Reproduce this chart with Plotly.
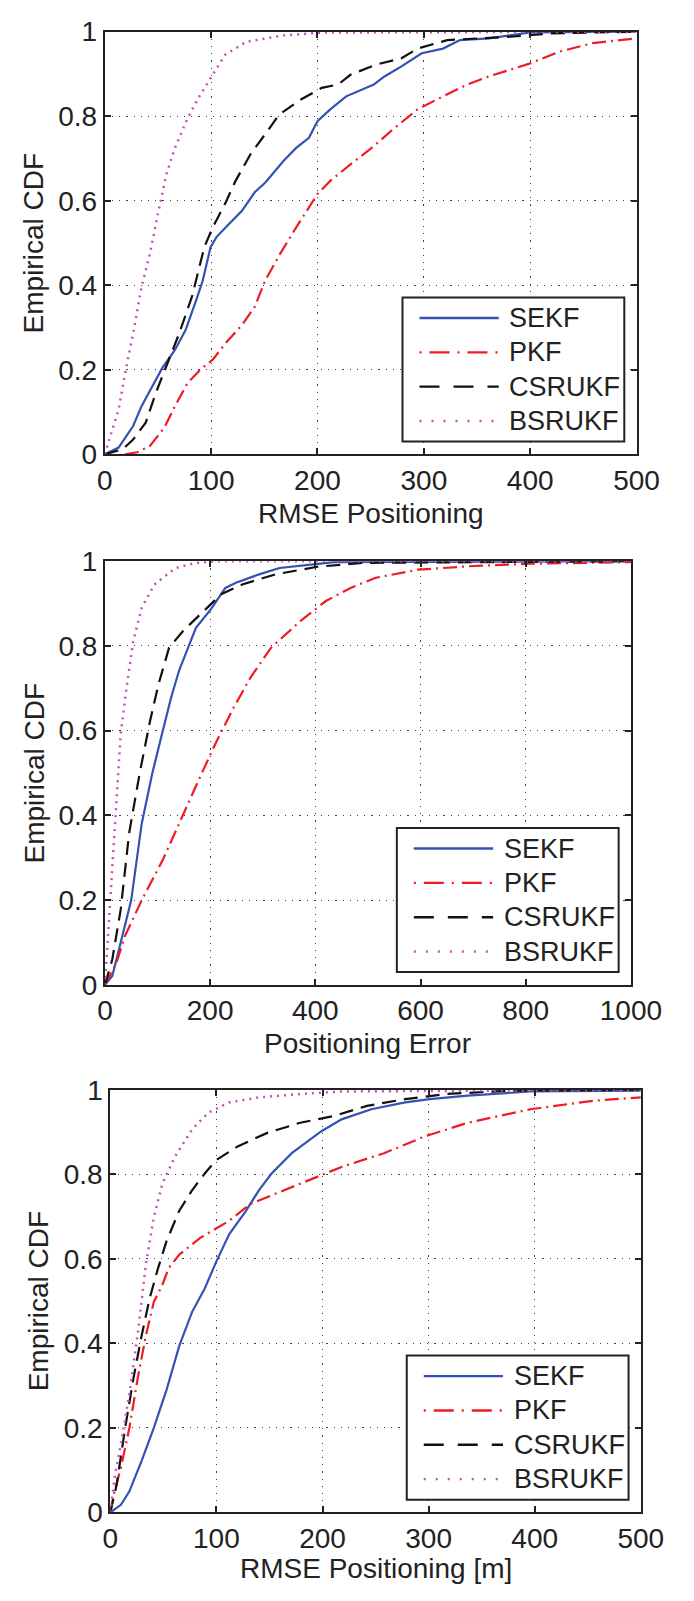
import plotly.graph_objects as go

W, H = 694, 1601

series_names = ["SEKF", "PKF", "CSRUKF", "BSRUKF"]

# ---------------- Panel 1: RMSE Positioning ----------------
p1_sekf_x = [0, 13, 26.7, 34.6, 44.5, 54, 66, 76, 86, 92, 99.5, 105, 115, 129, 141, 151, 168, 180, 192, 200, 212, 227, 253, 263, 279, 298, 318, 334, 361, 400, 500]
p1_sekf_y = [0, 0.016, 0.067, 0.114, 0.16, 0.204, 0.247, 0.294, 0.365, 0.41, 0.49, 0.514, 0.54, 0.576, 0.62, 0.643, 0.694, 0.725, 0.749, 0.788, 0.816, 0.847, 0.875, 0.894, 0.918, 0.949, 0.96, 0.98, 0.984, 0.998, 1.0]
p1_pkf_x = [19, 30.7, 42.5, 56, 66, 78, 89.7, 101.5, 115, 129, 141, 151, 165, 180, 200, 212, 231, 251, 271, 294, 318, 341, 361, 400, 428, 459, 500]
p1_pkf_y = [0, 0.005, 0.02, 0.063, 0.114, 0.169, 0.2, 0.224, 0.267, 0.306, 0.349, 0.412, 0.475, 0.537, 0.616, 0.647, 0.686, 0.725, 0.769, 0.816, 0.847, 0.875, 0.894, 0.925, 0.953, 0.973, 0.984]
p1_csr_x = [0, 17, 26.7, 38.5, 48, 58, 70, 82, 93.6, 101.5, 113, 123, 137, 153, 164, 184, 204, 219.5, 231, 255, 279, 294, 322, 381, 420, 500]
p1_csr_y = [0, 0.012, 0.035, 0.075, 0.145, 0.208, 0.286, 0.373, 0.49, 0.537, 0.592, 0.647, 0.71, 0.765, 0.804, 0.839, 0.867, 0.875, 0.898, 0.922, 0.937, 0.96, 0.98, 0.988, 0.996, 1.0]
p1_bsr_x = [0, 5, 13, 21, 26.7, 34.6, 42.5, 50, 58, 66, 78, 88, 97.6, 113, 133, 168, 204, 500]
p1_bsr_y = [0, 0.043, 0.106, 0.216, 0.286, 0.396, 0.475, 0.569, 0.663, 0.725, 0.796, 0.843, 0.882, 0.945, 0.976, 0.991, 0.998, 1.0]

# ---------------- Panel 2: Positioning Error ----------------
p2_sekf_x = [0, 14, 30, 50, 70, 90, 110, 126, 141, 173, 201, 229, 249, 293, 332, 396, 436, 1000]
p2_sekf_y = [0, 0.021, 0.1, 0.2, 0.381, 0.499, 0.6, 0.679, 0.742, 0.843, 0.886, 0.937, 0.949, 0.969, 0.984, 0.992, 0.998, 1.0]
p2_pkf_x = [0, 22, 38, 70, 110, 149, 181, 213, 245, 277, 316, 372, 420, 467, 515, 595, 690, 809, 1000]
p2_pkf_y = [0, 0.052, 0.115, 0.2, 0.295, 0.405, 0.491, 0.577, 0.655, 0.726, 0.796, 0.859, 0.906, 0.937, 0.961, 0.98, 0.988, 0.994, 0.998]
p2_csr_x = [0, 14, 30, 46, 66, 86, 102, 122, 149, 181, 221, 261, 324, 404, 491, 1000]
p2_csr_y = [0, 0.06, 0.178, 0.358, 0.499, 0.624, 0.71, 0.796, 0.836, 0.875, 0.922, 0.945, 0.969, 0.987, 0.996, 1.0]
p2_bsr_x = [0, 6, 14, 22, 30, 42, 54, 70, 94, 134, 173, 213, 1000]
p2_bsr_y = [0, 0.123, 0.28, 0.436, 0.593, 0.71, 0.812, 0.89, 0.945, 0.984, 0.996, 1.0, 1.0]

# ---------------- Panel 3: RMSE Positioning [m] ----------------
p3_sekf_x = [0, 10, 18, 29.5, 41, 53, 65, 77, 89, 100, 112, 128, 140, 152, 171, 199, 218, 246, 278, 301, 337, 396, 500]
p3_sekf_y = [0, 0.018, 0.05, 0.122, 0.2, 0.29, 0.394, 0.474, 0.53, 0.594, 0.658, 0.714, 0.762, 0.802, 0.85, 0.902, 0.93, 0.954, 0.97, 0.978, 0.986, 0.996, 0.998]
p3_pkf_x = [0, 4, 10, 18, 26, 33.5, 41, 49, 55, 65, 85, 112, 132, 155.5, 187, 218.5, 258, 297, 337, 396, 455, 500]
p3_pkf_y = [0, 0.05, 0.106, 0.2, 0.32, 0.418, 0.498, 0.538, 0.578, 0.61, 0.65, 0.69, 0.73, 0.754, 0.786, 0.818, 0.85, 0.89, 0.922, 0.954, 0.974, 0.982]
p3_csr_x = [0, 6, 14, 22, 29.5, 37, 45, 53, 65, 77, 89, 100, 120, 148, 179, 211, 242, 278, 317, 376, 500]
p3_csr_y = [0, 0.066, 0.2, 0.32, 0.418, 0.506, 0.578, 0.642, 0.714, 0.762, 0.802, 0.834, 0.866, 0.898, 0.922, 0.938, 0.962, 0.978, 0.99, 0.998, 1.0]
p3_bsr_x = [0, 4, 10, 18, 26, 33.5, 41, 49, 61, 77, 92.5, 112, 140, 179, 218.5, 500]
p3_bsr_y = [0, 0.082, 0.162, 0.282, 0.426, 0.586, 0.698, 0.778, 0.842, 0.906, 0.946, 0.97, 0.982, 0.99, 0.996, 1.0]

x_ticks_500 = [0, 100, 200, 300, 400, 500]
x_ticks_1000 = [0, 200, 400, 600, 800, 1000]
y_ticks = [0, 0.2, 0.4, 0.6, 0.8, 1]
y_tick_text = ["0", "0.2", "0.4", "0.6", "0.8", "1"]
y_title = "Empirical CDF"
x_titles = ["RMSE Positioning", "Positioning Error", "RMSE Positioning [m]"]

colors = ["#3452b4", "#ee1c24", "#111111", "#c94fb4"]
dashes = ["solid", "14px,5px,2px,5px", "14px,8px", "2px,5px"]
widths = [2.2, 2.2, 2.2, 2.5]
legend_dashes = ["solid", "2px,8px,20px,8px", "20px,14px", "2px,10px"]

FONT = "Liberation Sans, Arial, sans-serif"
TICK_SIZE = 28
TITLE_SIZE = 28
LEG_SIZE = 27

panels = [
    dict(left=102.5, right=666, top=17, bottom=448, xmax=500, xticks=x_ticks_500,
         data=[(p1_sekf_x, p1_sekf_y), (p1_pkf_x, p1_pkf_y), (p1_csr_x, p1_csr_y), (p1_bsr_x, p1_bsr_y)],
         xtitle_y=508, ytitle_x=28),
    dict(left=102.7, right=660, top=557, bottom=989, xmax=1000, xticks=x_ticks_1000,
         data=[(p2_sekf_x, p2_sekf_y), (p2_pkf_x, p2_pkf_y), (p2_csr_x, p2_csr_y), (p2_bsr_x, p2_bsr_y)],
         xtitle_y=1049, ytitle_x=28),
    dict(left=108.4, right=670.5, top=1096, bottom=1527, xmax=500, xticks=x_ticks_500,
         data=[(p3_sekf_x, p3_sekf_y), (p3_pkf_x, p3_pkf_y), (p3_csr_x, p3_csr_y), (p3_bsr_x, p3_bsr_y)],
         xtitle_y=1584, ytitle_x=32),
]


def fx(px):
    return px / W


def fy(py):
    return 1 - py / H


fig = go.Figure()
layout = dict(
    width=W, height=H, margin=dict(l=0, r=0, t=0, b=0),
    paper_bgcolor="white", plot_bgcolor="white", showlegend=False,
    font=dict(family=FONT, size=TICK_SIZE, color="#222222"),
)
shapes = []
annotations = []
text_color = "#222222"

for i, p in enumerate(panels):
    sfx = "" if i == 0 else str(i + 1)
    xa, ya = "x" + sfx, "y" + sfx
    for k, (xs, ys) in enumerate(p["data"]):
        fig.add_trace(go.Scatter(
            x=xs, y=ys, mode="lines", name=series_names[k],
            xaxis=xa, yaxis=ya,
            line=dict(color=colors[k], width=widths[k], dash=dashes[k]),
        ))
    common = dict(
        showline=True, linecolor="#222222", linewidth=2, mirror="ticks",
        ticks="inside", ticklen=6, tickcolor="#222222", tickwidth=1.5,
        showgrid=True, gridcolor="rgba(0,0,0,0.75)", gridwidth=1.2, griddash="1.2px,6px",
        zeroline=False, fixedrange=True,
        tickfont=dict(size=TICK_SIZE, color=text_color, family=FONT),
    )
    layout["xaxis" + sfx] = dict(
        common, domain=[fx(p["left"]), fx(p["right"])], anchor=ya,
        range=[0, p["xmax"]], tickvals=p["xticks"], ticktext=[str(t) for t in p["xticks"]],
        ticklabelstandoff=0,
    )
    layout["yaxis" + sfx] = dict(
        common, domain=[fy(p["bottom"]), fy(p["top"])], anchor=xa,
        range=[0, 1], tickvals=y_ticks, ticktext=y_tick_text, ticklabelstandoff=0,
    )
    # axis titles
    annotations.append(dict(
        x=fx((p["left"] + p["right"]) / 2), y=fy(p["xtitle_y"]), xref="paper", yref="paper",
        text=x_titles[i], showarrow=False, xanchor="center", yanchor="middle",
        font=dict(size=TITLE_SIZE, color=text_color, family=FONT),
    ))
    annotations.append(dict(
        x=fx(p["ytitle_x"]), y=fy((p["top"] + p["bottom"]) / 2), xref="paper", yref="paper",
        text=y_title, showarrow=False, xanchor="center", yanchor="middle", textangle=-90,
        font=dict(size=TITLE_SIZE, color=text_color, family=FONT),
    ))
    # legend box (MATLAB style)
    bx1 = p["right"] - 13
    bx0 = bx1 - 235
    by1 = p["bottom"] - 13
    by0 = by1 - 147
    shapes.append(dict(
        type="rect", xref="paper", yref="paper", x0=fx(bx0), x1=fx(bx1), y0=fy(by1), y1=fy(by0),
        line=dict(color="#222222", width=2), fillcolor="white", layer="above",
    ))
    for k, name in enumerate(series_names):
        ry = by0 + 21 + 35 * k
        shapes.append(dict(
            type="line", xref="paper", yref="paper", x0=fx(bx0 + 18), x1=fx(bx0 + 102),
            y0=fy(ry), y1=fy(ry),
            line=dict(color=colors[k], width=2.4, dash=legend_dashes[k]), layer="above",
        ))
        annotations.append(dict(
            x=fx(bx0 + 111), y=fy(ry), xref="paper", yref="paper", text=name,
            showarrow=False, xanchor="left", yanchor="middle",
            font=dict(size=LEG_SIZE, color=text_color, family=FONT),
        ))

layout["shapes"] = shapes
layout["annotations"] = annotations
fig.update_layout(**layout)
fig.write_html("out.html")
